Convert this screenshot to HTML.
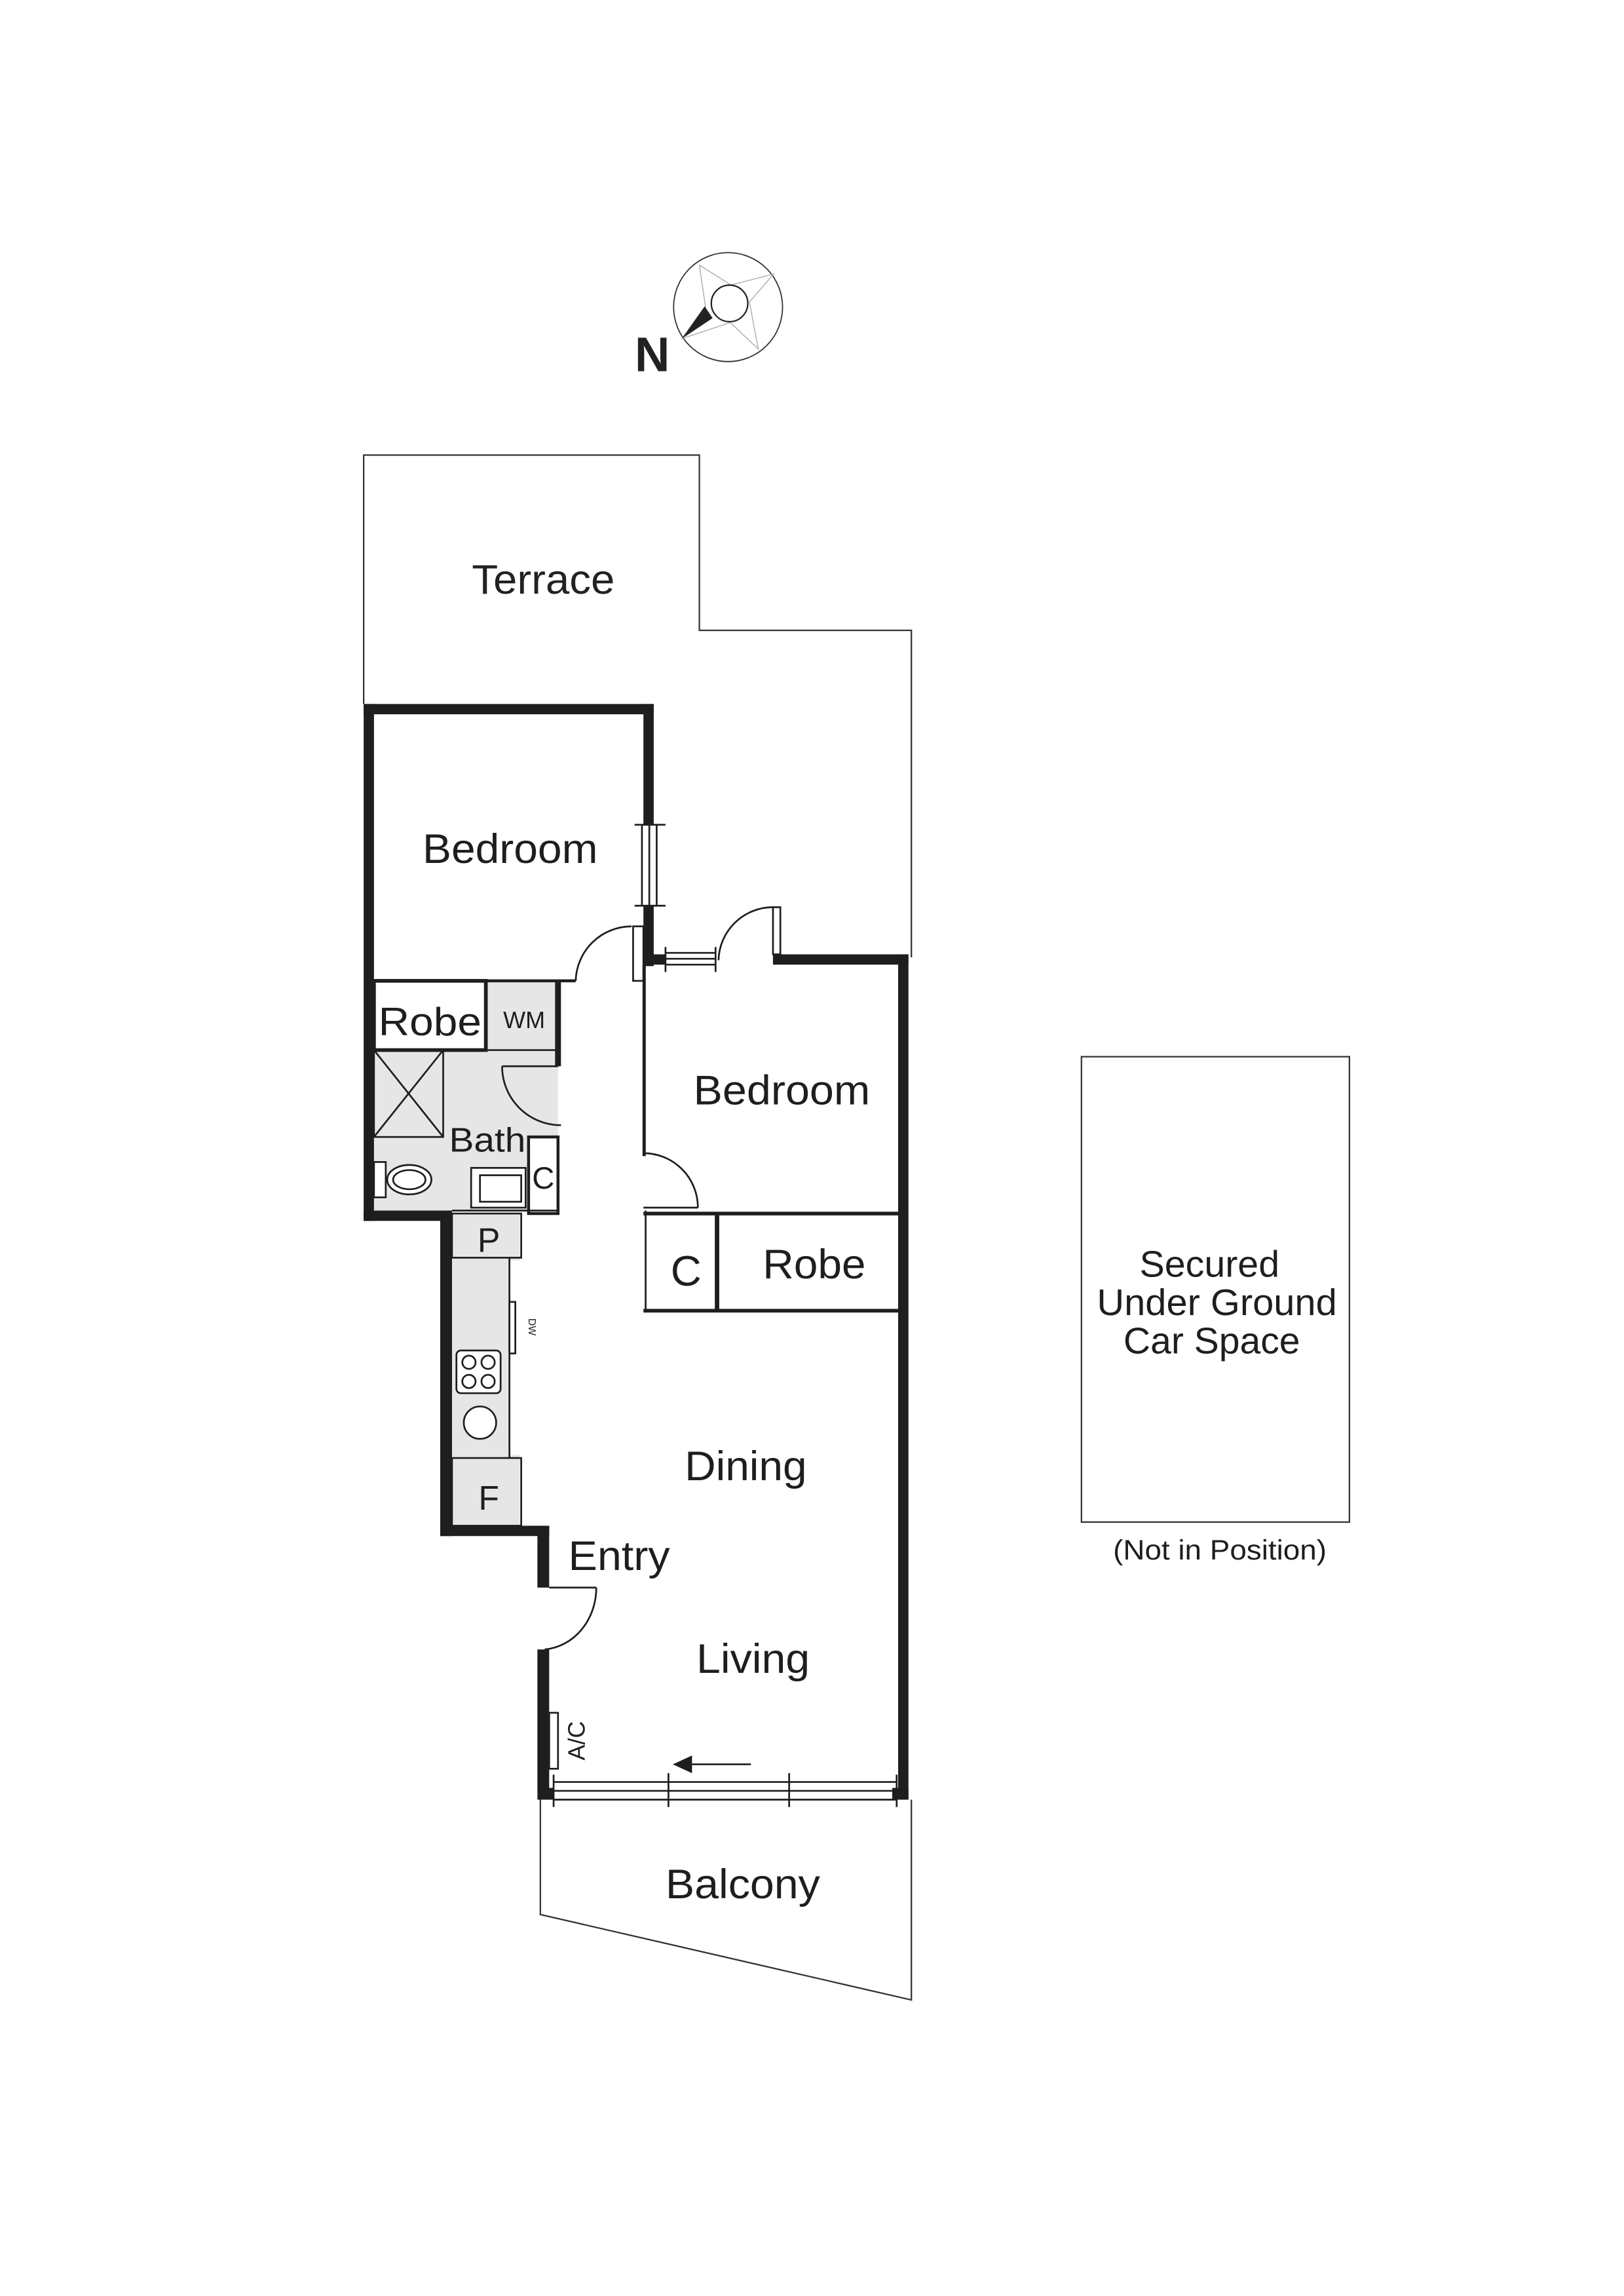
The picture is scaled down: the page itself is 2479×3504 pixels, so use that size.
<!DOCTYPE html>
<html><head><meta charset="utf-8"><style>html,body{margin:0;padding:0;background:#fff}svg{display:block}</style></head>
<body>
<svg width="2479" height="3504" viewBox="0 0 1103 1559" xmlns="http://www.w3.org/2000/svg" font-family="Liberation Sans, Arial, sans-serif">
<rect width="1103" height="1559" fill="#fff"/>
<!-- compass -->
<g fill="none">
<circle cx="494.5" cy="208.5" r="37" stroke="#333" stroke-width="0.8"/>
<polygon points="475,180 496.5,193.5 525.5,186 509,205 515,237 496,219 463,230 480,214" stroke="#aaa" stroke-width="0.6"/>
<circle cx="495.5" cy="206" r="12.4" fill="#fff" stroke="#222" stroke-width="1"/>
<polygon points="463,230 478.6,208 484,216" fill="#222"/>
</g>
<text x="443" y="252" font-size="33" font-weight="bold" text-anchor="middle" fill="#222">N</text>

<!-- terrace outline -->
<polyline points="247,478 247,309 475,309 475,428 619,428 619,650" fill="none" stroke="#333" stroke-width="1"/>
<text x="369" y="403" font-size="28" text-anchor="middle" textLength="97" lengthAdjust="spacingAndGlyphs" fill="#222">Terrace</text>

<!-- grey fills -->
<rect x="254" y="666" width="125" height="156" fill="#e6e6e6"/>
<rect x="254" y="666" width="77" height="47" fill="#fff"/>
<rect x="307" y="824" width="46" height="212" fill="#e6e6e6"/>
<rect x="346" y="856" width="10" height="132" fill="#fff"/>

<g fill="#1e1e1e">
<rect x="247" y="478" width="197" height="7"/>
<rect x="247" y="478" width="7" height="351"/>
<rect x="437" y="478" width="7" height="82"/>
<rect x="437" y="615" width="7" height="41"/>
<rect x="437" y="648" width="15" height="7"/>
<rect x="247" y="822" width="60" height="7"/>
<rect x="299" y="822" width="8" height="221"/>
<rect x="299" y="1036" width="74" height="7"/>
<rect x="365" y="1036" width="8" height="42"/>
<rect x="365" y="1120" width="8" height="102"/>
<rect x="525" y="648" width="92" height="7"/>
<rect x="610" y="648" width="7" height="574"/>
<rect x="606" y="1214" width="11" height="8"/>
<rect x="367" y="1214" width="9" height="8"/>
<rect x="377" y="666" width="4" height="58"/>
</g>

<g fill="none" stroke="#1e1e1e" stroke-width="1.2">
<line x1="431" y1="560" x2="452" y2="560"/><line x1="431" y1="615" x2="452" y2="615"/>
<line x1="436" y1="560" x2="436" y2="615"/><line x1="441" y1="560" x2="441" y2="615"/><line x1="446" y1="560" x2="446" y2="615"/>
<rect x="430" y="629" width="7" height="37" fill="#fff"/>
<path d="M429,629 A38,38 0 0 0 391,666"/>
<line x1="254" y1="666" x2="391" y2="666" stroke-width="2"/>
<rect x="254" y="666" width="76" height="47" stroke-width="2.5"/>
<line x1="330" y1="666" x2="330" y2="713" stroke-width="2.5"/>
<line x1="330" y1="713" x2="379" y2="713"/>
<line x1="341" y1="724" x2="379" y2="724"/>
<path d="M341,724 A40,40 0 0 0 380,764"/>
<line x1="378" y1="764" x2="381" y2="764"/>
<rect x="254" y="713" width="47" height="59"/>
<line x1="254" y1="713" x2="301" y2="772"/><line x1="301" y1="713" x2="254" y2="772"/>
<rect x="359" y="772" width="20" height="52" fill="#fff" stroke-width="2"/>
<rect x="254" y="789" width="8" height="24" fill="#fff"/>
<ellipse cx="278" cy="801" rx="15" ry="10" fill="#fff"/>
<ellipse cx="278" cy="801" rx="11" ry="6.5"/>
<rect x="320" y="793" width="37" height="27" fill="#fff"/>
<rect x="326" y="798" width="28" height="18"/>
<line x1="307" y1="822" x2="379" y2="822"/>
<rect x="307" y="824" width="47" height="30"/>
<line x1="346" y1="854" x2="346" y2="990"/>
<rect x="346" y="884" width="4" height="35" fill="#fff"/>
<rect x="310" y="917" width="30" height="29" rx="3" fill="#fff"/>
<circle cx="318.5" cy="925" r="4.5"/><circle cx="331.5" cy="925" r="4.5"/>
<circle cx="318.5" cy="938" r="4.5"/><circle cx="331.5" cy="938" r="4.5"/>
<circle cx="326" cy="966" r="11" fill="#fff"/>
<rect x="307" y="990" width="47" height="46"/>
<line x1="452" y1="643" x2="452" y2="660"/><line x1="486" y1="643" x2="486" y2="660"/>
<line x1="452" y1="647" x2="486" y2="647"/><line x1="452" y1="651" x2="486" y2="651"/><line x1="452" y1="655" x2="486" y2="655"/>
<rect x="525" y="616" width="5" height="32" fill="#fff"/>
<path d="M525,616 A37,37 0 0 0 488,652"/>
<line x1="437.5" y1="655" x2="437.5" y2="785" stroke-width="2.2"/>
<path d="M437,783 A37,37 0 0 1 474,820"/>
<line x1="437" y1="820" x2="474" y2="820"/>
<line x1="437" y1="824" x2="613" y2="824" stroke-width="2.5"/>
<line x1="438.5" y1="822" x2="438.5" y2="891"/>
<line x1="437" y1="890" x2="612" y2="890" stroke-width="2.5"/>
<line x1="487" y1="824" x2="487" y2="891" stroke-width="3"/>
<line x1="373" y1="1078" x2="405" y2="1078"/>
<path d="M405,1078 A38,42 0 0 1 370,1120"/>
<rect x="373" y="1163" width="6" height="38" fill="#fff"/>
<line x1="376" y1="1210" x2="609" y2="1210"/><line x1="376" y1="1216" x2="609" y2="1216"/><line x1="376" y1="1222" x2="609" y2="1222"/>
<line x1="376" y1="1205" x2="376" y2="1227"/><line x1="454" y1="1204" x2="454" y2="1227"/><line x1="536" y1="1204" x2="536" y2="1227"/><line x1="609" y1="1205" x2="609" y2="1227"/>
<line x1="470" y1="1198" x2="510" y2="1198"/>
<polyline points="367,1222 367,1300 619,1358 619,1222" stroke="#333" stroke-width="1"/>
<rect x="734.5" y="717.5" width="182" height="316" stroke="#333" stroke-width="1"/>
</g>
<polygon points="457,1198 470,1192 470,1204" fill="#1e1e1e"/>

<g fill="#1e1e1e" font-size="28" text-anchor="middle" lengthAdjust="spacingAndGlyphs">
<text x="346.5" y="586" textLength="119" lengthAdjust="spacingAndGlyphs">Bedroom</text>
<text x="531" y="750" textLength="120" lengthAdjust="spacingAndGlyphs">Bedroom</text>
<text x="292" y="703" font-size="27" textLength="70" lengthAdjust="spacingAndGlyphs">Robe</text>
<text x="356" y="698" font-size="16">WM</text>
<text x="331" y="782" font-size="23" textLength="52" lengthAdjust="spacingAndGlyphs">Bath</text>
<text x="369" y="807" font-size="21">C</text>
<text x="332" y="850" font-size="23">P</text>
<text x="332" y="1025" font-size="23">F</text>
<text x="466" y="873" font-size="29">C</text>
<text x="553" y="868" textLength="70" lengthAdjust="spacingAndGlyphs">Robe</text>
<text x="506.5" y="1005" textLength="83" lengthAdjust="spacingAndGlyphs">Dining</text>
<text x="420.5" y="1066" textLength="69" lengthAdjust="spacingAndGlyphs">Entry</text>
<text x="511.5" y="1136" textLength="77" lengthAdjust="spacingAndGlyphs">Living</text>
<text x="504.5" y="1289" textLength="105" lengthAdjust="spacingAndGlyphs">Balcony</text>
<text x="821.5" y="867" font-size="25" textLength="95" lengthAdjust="spacingAndGlyphs">Secured</text>
<text x="826.5" y="893" font-size="25" textLength="163" lengthAdjust="spacingAndGlyphs">Under Ground</text>
<text x="823" y="919" font-size="25" textLength="120" lengthAdjust="spacingAndGlyphs">Car Space</text>
<text x="828.5" y="1059" font-size="19" textLength="145" lengthAdjust="spacingAndGlyphs">(Not in Position)</text>
<text transform="translate(397,1182) rotate(-90)" font-size="16">A/C</text>
<text transform="translate(359,901) rotate(90)" font-size="7">DW</text>
</g>
</svg>
</body></html>
